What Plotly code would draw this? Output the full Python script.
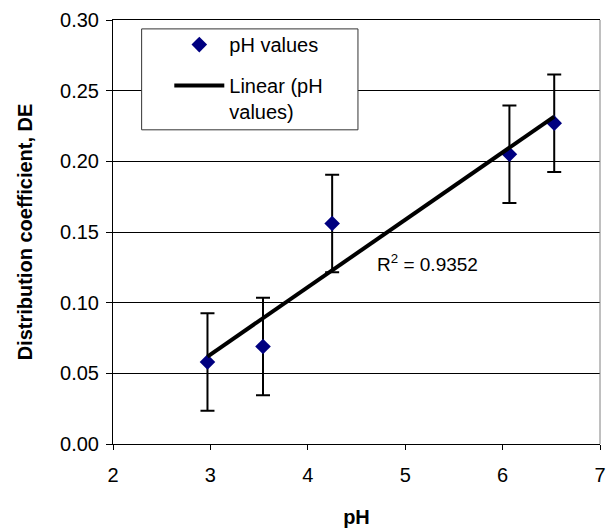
import numpy as np
import plotly.graph_objects as go

ph = [2.97, 3.54, 4.25, 6.07, 6.53]
de = [0.058, 0.069, 0.156, 0.205, 0.227]
de_err = [0.0345, 0.0345, 0.0345, 0.0345, 0.0345]
x_ticks = [2, 3, 4, 5, 6, 7]
y_ticks = [0.00, 0.05, 0.10, 0.15, 0.20, 0.25, 0.30]
r2_label = "R<sup>2</sup> = 0.9352"

slope, intercept = np.polyfit(ph, de, 1)
fit_x = [min(ph), max(ph)]
fit_y = [slope * v + intercept for v in fit_x]

FONT = "Liberation Sans, Arial, sans-serif"

fig = go.Figure()
fig.add_trace(go.Scatter(
    x=ph, y=de, mode="markers", name="pH values",
    marker=dict(symbol="diamond", size=12, color="#000080"),
    error_y=dict(type="data", array=de_err, visible=True,
                 color="black", thickness=2, width=7),
    legendgroup="a",
))
fig.add_trace(go.Scatter(
    x=fit_x, y=fit_y, mode="lines", name="Linear (pH<br>values)",
    line=dict(color="black", width=4),
    legendgroup="b",
))

fig.add_annotation(x=4.69, y=0.128, xref="x", yref="y", text=r2_label,
                   showarrow=False, xanchor="left", yanchor="middle",
                   font=dict(family=FONT, size=19, color="black"))

# legend frame (white box with dark border)
fig.add_shape(type="rect", xref="paper", yref="paper",
              x0=0.0588, x1=0.503, y0=0.741, y1=0.979,
              fillcolor="white", line=dict(color="#333333", width=1),
              layer="above")
# right plot-area border (grey)
fig.add_shape(type="line", xref="paper", yref="paper", x0=1, x1=1, y0=0, y1=1,
              line=dict(color="#808080", width=1))

fig.update_layout(
    width=612, height=530,
    margin=dict(l=113, r=6, t=20, b=82),
    paper_bgcolor="white", plot_bgcolor="white",
    font=dict(family=FONT, size=20, color="black"),
    showlegend=True,
    legend=dict(x=0.1156, y=0.988, xanchor="left", yanchor="top",
                bgcolor="rgba(0,0,0,0)", borderwidth=0,
                tracegroupgap=12, itemwidth=50, valign="top",
                font=dict(family=FONT, size=20, color="black")),
    xaxis=dict(range=[2, 7], tickvals=x_ticks, ticktext=[str(v) for v in x_ticks],
               showgrid=False, zeroline=False, showline=True, linecolor="black",
               linewidth=1, mirror=True, ticks="outside", ticklen=5,
               tickcolor="black", ticklabelstandoff=8,
               title=dict(text="<b>pH</b>", standoff=24,
                          font=dict(family=FONT, size=20))),
    yaxis=dict(range=[0, 0.30], tickvals=y_ticks,
               ticktext=["%.2f" % v for v in y_ticks],
               showgrid=True, gridcolor="black", gridwidth=1,
               zeroline=False, showline=True, linecolor="black", linewidth=1,
               ticks="outside", ticklen=6, tickcolor="black", ticklabelstandoff=3,
               title=dict(text="<b>Distribution coefficient, DE</b>", standoff=22,
                          font=dict(family=FONT, size=20))),
)

fig.write_html("out.html")
